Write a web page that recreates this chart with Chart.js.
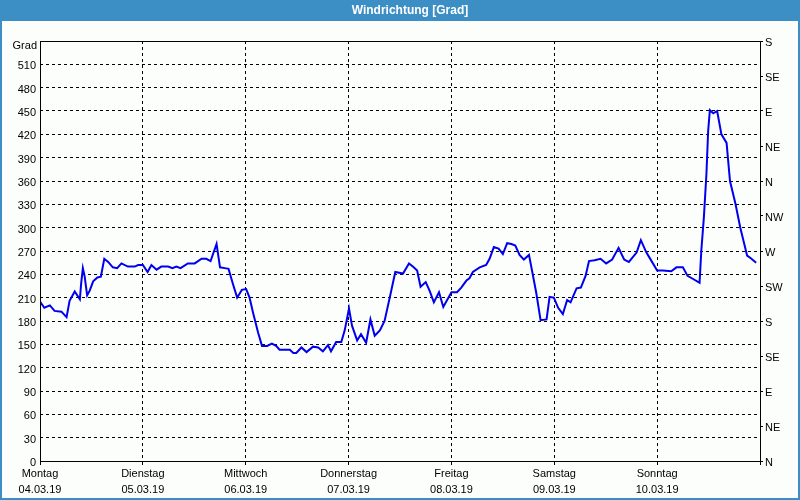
<!DOCTYPE html>
<html>
<head>
<meta charset="utf-8">
<script src="https://cdn.jsdelivr.net/npm/chart.js@4.4.1/dist/chart.umd.min.js"></script>
<style>
  html, body { margin: 0; padding: 0; background: #fcfefc; }
  #wrap { width: 800px; height: 500px; position: relative; }
</style>
</head>
<body>
<div id="wrap"><canvas id="c" width="800" height="500"></canvas></div>
<script>
// ---- data (hours since Monday 00:00, wind direction in degrees) ----
const hours = [
  0, 1, 2.3, 3.4, 5, 6.2, 6.9, 8.1, 9.3, 9.6, 10, 10.4, 11, 11.6, 12.4, 13.4, 14.2, 15, 15.9, 17, 18, 19, 20.5, 22.1, 22.9,
  24, 25.1, 26, 27.2, 28.3, 29.9, 30.9, 31.8, 32.8, 34.5, 36.1, 37.7, 38.8, 39.8, 41.2, 42, 43.1, 44, 45, 46, 47.1,
  48.1, 48.9, 49.7, 50.9, 51.8, 53, 54.1, 55.1, 55.9, 56.7, 58.3, 59.1, 59.8, 61, 62.2, 63.7, 64.9, 66, 67.2, 67.9, 69.1, 70.3, 71.1,
  72.1, 72.8, 74, 74.9, 76.1, 77.1, 78.1, 79.3, 80.4, 81.6, 82.9, 84.7, 86.1, 87, 88, 88.8, 90, 90.9, 91.9, 93.1, 94.1,
  96, 97.3, 98.3, 99.5, 100.2, 101, 102.6, 104.1, 104.9, 105.9, 107, 108, 109, 110, 110.9, 111.9,
  112.9, 114.1, 114.9, 115.8, 116.8, 118.2, 118.9, 119.9,
  120.9, 122, 123, 123.8, 125.2, 126.2, 127.3, 128.1, 129.4, 130.8, 132.1, 133.5, 135, 136.3, 137.4, 139.2, 140.2, 141.5, 142.7,
  144, 145.3, 147.3, 148.5, 150, 151.1, 152.4, 153.9, 154.3, 154.9, 155.5, 155.9, 156.3, 157.1, 158, 159, 160.2, 161, 162.3, 163.4, 165, 166, 167.1
];
const values = [
  205, 197, 200, 193, 192, 185, 206, 218, 208, 228, 248, 238, 213, 219, 231, 236, 237, 260, 256, 249, 248, 254, 250, 250, 252,
  252, 243, 252, 246, 250, 250, 248, 250, 248, 254, 254, 260, 260, 257, 279, 249, 248, 247, 228, 210, 220,
  221, 210, 191, 165, 148, 148, 151, 148, 143, 143, 143, 139, 139, 146, 140, 147, 146, 141, 149, 141, 153, 153, 168,
  196, 174, 155, 163, 152, 182, 161, 168, 180, 210, 243, 241, 254, 250, 245, 224, 230, 219, 204, 217, 198,
  217, 217, 223, 232, 235, 243, 249, 252, 260, 275, 273, 266, 280, 279, 277, 265,
  259, 265, 242, 216, 181, 182, 211, 210,
  197, 189, 207, 204, 222, 223, 238, 257, 258, 260, 254, 259, 274, 259, 256, 268, 284, 268, 257,
  245, 245, 244, 249, 249, 238, 234, 229, 270, 313, 369, 424, 451, 447, 450, 420, 409, 360, 330, 300, 264, 260, 255
];
const dayNames = ['Montag', 'Dienstag', 'Mittwoch', 'Donnerstag', 'Freitag', 'Samstag', 'Sonntag'];
const dayDates = ['04.03.19', '05.03.19', '06.03.19', '07.03.19', '08.03.19', '09.03.19', '10.03.19'];
const compassLabels = ['N', 'NE', 'E', 'SE', 'S', 'SW', 'W', 'NW', 'N', 'NE', 'E', 'SE', 'S'];
const titleText = 'Windrichtung [Grad]';
const unitText = 'Grad';

Chart.defaults.font.family = "'Liberation Sans', Arial, sans-serif";
Chart.defaults.font.size = 11;
Chart.defaults.color = '#000';

const frame = {
  id: 'frame',
  beforeDraw(chart) {
    const ctx = chart.ctx;
    ctx.save();
    ctx.fillStyle = '#fcfefc';
    ctx.fillRect(0, 0, 800, 500);
    ctx.fillStyle = '#3c8fc5';
    ctx.fillRect(0, 0, 800, 21);
    ctx.fillRect(0, 0, 2, 500);
    ctx.fillRect(798, 0, 2, 500);
    ctx.fillRect(0, 498, 800, 2);
    ctx.fillStyle = '#ffffff';
    ctx.font = "bold 12px 'Liberation Sans', Arial, sans-serif";
    ctx.textAlign = 'center';
    ctx.textBaseline = 'middle';
    ctx.fillText(titleText, 410, 11);
    ctx.fillStyle = '#000';
    ctx.font = "11px 'Liberation Sans', Arial, sans-serif";
    ctx.textAlign = 'right';
    ctx.fillText(unitText, 37, 46);
    ctx.restore();
  },
  afterDraw(chart) {
    const a = chart.chartArea;
    const ctx = chart.ctx;
    ctx.save();
    ctx.strokeStyle = '#000';
    ctx.lineWidth = 1;
    ctx.setLineDash([]);
    ctx.strokeRect(Math.round(a.left) + 0.5, Math.round(a.top) + 0.5,
      Math.round(a.right - a.left), Math.round(a.bottom - a.top));
    ctx.restore();
  }
};

new Chart(document.getElementById('c'), {
  type: 'line',
  data: {
    datasets: [{
      data: hours.map((h, i) => ({ x: h, y: values[i] })),
      borderColor: '#0000ee',
      borderWidth: 2,
      pointRadius: 0,
      tension: 0,
      fill: false,
      yAxisID: 'y'
    }]
  },
  options: {
    responsive: false,
    animation: false,
    devicePixelRatio: 1,
    layout: { padding: { top: 41, left: 0, right: 0, bottom: 0 } },
    plugins: { legend: { display: false }, tooltip: { enabled: false }, title: { display: false } },
    scales: {
      x: {
        type: 'linear',
        min: 0,
        max: 168,
        afterFit(s) { s.height = 39; },
        afterBuildTicks(s) { s.ticks = dayNames.map((_, i) => ({ value: i * 24 })).concat([{ value: 168 }]); },
        ticks: {
          autoSkip: false,
          maxRotation: 0,
          padding: 1,
          font: { size: 11, lineHeight: 1.45 },
          callback(v) { const i = Math.round(v / 24); return i < dayNames.length ? [dayNames[i], dayDates[i]] : ''; }
        },
        grid: {
          color: (c) => (c.tick && (c.tick.value === 0 || c.tick.value === 168)) ? 'rgba(0,0,0,0)' : '#000',
          lineWidth: 1,
          tickLength: 4,
          tickColor: '#000'
        },
        border: { display: false, dash: [3, 3] }
      },
      y: {
        position: 'left',
        min: 0,
        max: 540,
        afterFit(s) { s.width = 40; },
        ticks: {
          stepSize: 30,
          padding: 4,
          labelOffset: 2,
          callback(v) { return v === 540 ? '' : String(v); }
        },
        grid: {
          color: (c) => (c.tick && (c.tick.value === 0 || c.tick.value === 540)) ? 'rgba(0,0,0,0)' : '#000',
          lineWidth: 1,
          drawTicks: false
        },
        border: { display: false, dash: [3, 3] }
      },
      y2: {
        position: 'right',
        min: 0,
        max: 540,
        afterFit(s) { s.width = 40; },
        ticks: {
          stepSize: 45,
          padding: 2,
          labelOffset: 2,
          callback(v) { return compassLabels[Math.round(v / 45)]; }
        },
        grid: {
          drawOnChartArea: false,
          tickLength: 3,
          tickColor: '#000',
          color: '#000'
        },
        border: { display: false }
      }
    }
  },
  plugins: [frame]
});
</script>
</body>
</html>
